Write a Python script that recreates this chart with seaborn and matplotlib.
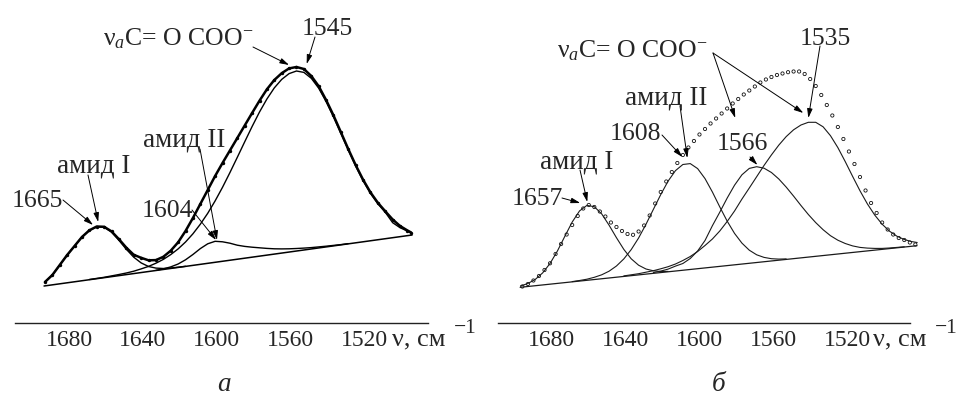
import matplotlib
matplotlib.use("Agg")
import matplotlib.pyplot as plt
from matplotlib.transforms import IdentityTransform
import pandas as pd
import seaborn as sns

# ---------------- panel а ----------------
nu_a = [1693, 1689, 1685, 1681, 1677, 1673, 1669, 1665, 1661, 1657,
        1653, 1649, 1645, 1641, 1637, 1633, 1629, 1625, 1621, 1617,
        1613, 1609, 1605, 1601, 1597, 1593, 1589, 1585, 1581, 1577,
        1573, 1569, 1565, 1561, 1557, 1553, 1549, 1545, 1541, 1537,
        1533, 1529, 1525, 1521, 1517, 1513, 1509, 1505, 1501, 1497, 1495]
spectrum_a = [41, 48, 58, 68, 77, 86, 92.7, 96.5, 96.2, 91.6,
              83.8, 75.3, 68.2, 65.2, 62.7, 62.9, 66.2, 72.3, 80.7, 92,
              105, 119, 133, 147, 160, 172.5, 185, 197.5, 210, 222.3,
              233.7, 243, 249.8, 254.6, 256, 254, 247, 236.8, 223, 207.6,
              190.8, 173.9, 157.9, 143.3, 130.6, 120.2, 111.7, 103.5, 97, 92.5, 90.5]

nu_a_amide1 = [1693, 1689, 1685, 1681, 1677, 1673, 1669, 1665, 1661, 1657,
               1653, 1649, 1645, 1641, 1637, 1633, 1629, 1625, 1621, 1617]
band_a_amide1 = [41, 48, 58, 68, 77, 86, 92.5, 96.2, 95.8, 90.9,
                 82.7, 73.7, 65.8, 60.1, 56.5, 54.9, 54.5, 55.0, 55.8, 56.7]

nu_a_amide2 = [1633, 1629, 1625, 1621, 1617, 1613, 1609, 1605, 1601, 1597,
               1593, 1589, 1585, 1581, 1577, 1573, 1569, 1565, 1561, 1557,
               1553, 1549, 1545, 1541, 1537, 1533, 1529]
band_a_amide2 = [52.7, 54.1, 56.1, 59.0, 63.2, 68.5, 74.4, 79.2, 81.7, 81.2,
                 79.8, 77.8, 76.6, 75.8, 75.2, 74.6, 74.2, 74.1, 74.2, 74.5,
                 74.9, 75.4, 76.1, 76.8, 77.6, 78.4, 79.4]

nu_a_coo = [1669, 1665, 1661, 1657, 1653, 1649, 1645, 1641, 1637, 1633,
            1629, 1625, 1621, 1617, 1613, 1609, 1605, 1601, 1597, 1593,
            1589, 1585, 1581, 1577, 1573, 1569, 1565, 1561, 1557, 1553,
            1549, 1545, 1541, 1537, 1533, 1529, 1525, 1521, 1517, 1513,
            1509, 1505, 1501, 1497, 1495]
band_a_coo = [43.5, 44.6, 45.7, 47.1, 48.5, 50.0, 51.8, 54.1, 56.6, 59.8,
              63.6, 68.4, 74.1, 81.0, 89.2, 98.8, 109.7, 122.1, 135.7, 150.4,
              165.7, 181.2, 196.5, 211.0, 224.0, 235.1, 243.6, 249.4, 252.0, 250.6,
              244.7, 234.8, 221.5, 206.1, 189.5, 172.9, 156.9, 142.3, 129.6, 119.2,
              110.7, 100.3, 95.3, 91.9, 89.9]

nu_a_base = [1693.5, 1494.5]
base_a = [37, 88]

# ---------------- panel б ----------------
nu_b = [1696, 1693, 1690, 1687, 1684, 1681, 1678, 1675, 1672, 1669,
        1666, 1663, 1660, 1657, 1654, 1651, 1648, 1645, 1642, 1639,
        1636, 1633, 1630, 1627, 1624, 1621, 1618, 1615, 1612, 1609,
        1606, 1603, 1600, 1597, 1594, 1591, 1588, 1585, 1582, 1579,
        1576, 1573, 1570, 1567, 1564, 1561, 1558, 1555, 1552, 1549,
        1546, 1543, 1540, 1537, 1534, 1531, 1528, 1525, 1522, 1519,
        1516, 1513, 1510, 1507, 1504, 1501, 1498, 1495, 1492, 1489,
        1486, 1483]
spectrum_b = [36.5, 39, 42.5, 47, 53, 59.7, 69, 79, 88.5, 98,
              107, 114.5, 118, 116, 111.5, 106.5, 100.5, 96, 92, 89,
              88.2, 91.5, 97.5, 107.5, 119.5, 131, 141.5, 151, 160, 168,
              175.5, 182, 188.5, 194, 199.5, 204.5, 209.5, 214.5, 219.5, 224,
              228.5, 232.5, 236.5, 240.5, 243.5, 246, 248, 249.5, 250.8, 251.5,
              251.5, 249, 244, 237, 228, 218, 207.5, 196, 184, 171.5,
              159, 146, 132.5, 120, 110, 100.5, 93.5, 88.5, 85, 83,
              80.5, 78.5]

nu_b_amide1 = [1697, 1693, 1689, 1685, 1681, 1677, 1673, 1669, 1665, 1661,
               1657, 1653, 1649, 1645, 1641, 1637, 1633, 1629, 1625, 1621, 1617]
band_b_amide1 = [37.0, 39.5, 43.6, 50.1, 59.5, 72.0, 86.6, 100.9, 112.1, 117.6,
                 116.3, 109.1, 97.8, 85.3, 73.6, 64.2, 57.8, 54.0, 52.2, 51.5, 51.6]

nu_b_amide2 = [1669, 1665, 1661, 1657, 1653, 1649, 1645, 1641, 1637, 1633,
               1629, 1625, 1621, 1617, 1613, 1609, 1605, 1601, 1597, 1593,
               1589, 1585, 1581, 1577, 1573, 1569, 1565, 1561, 1557, 1553]
band_b_amide2 = [41.4, 42.5, 43.8, 45.7, 48.2, 51.8, 57.0, 64.1, 73.4, 85.0,
                 98.7, 113.6, 128.4, 141.9, 152.4, 158.5, 159.4, 154.4, 144.4, 131.0,
                 116.1, 101.9, 89.6, 79.9, 72.8, 68.2, 65.6, 64.3, 63.9, 64.1]

nu_b_coo1 = [1625, 1621, 1617, 1613, 1609, 1605, 1601, 1597, 1593, 1589,
             1585, 1581, 1577, 1573, 1569, 1565, 1561, 1557, 1553, 1549,
             1545, 1541, 1537, 1533, 1529, 1525, 1521, 1517, 1513, 1509,
             1505, 1501, 1497, 1493, 1489]
band_b_coo1 = [50.4, 51.9, 53.9, 56.9, 59.5, 64.5, 72.0, 82.5, 97.3, 110.8,
               124.9, 137.8, 148.2, 154.6, 156.3, 154.8, 150.5, 144.0, 135.9, 126.9,
               117.5, 108.5, 100.4, 93.3, 87.3, 82.8, 79.5, 77.1, 75.6, 74.9,
               74.6, 74.6, 75.0, 75.6, 76.2]

nu_b_coo2 = [1641, 1637, 1633, 1629, 1625, 1621, 1617, 1613, 1609, 1605,
             1601, 1597, 1593, 1589, 1585, 1581, 1577, 1573, 1569, 1565,
             1561, 1557, 1553, 1549, 1545, 1541, 1537, 1533, 1529, 1525,
             1521, 1517, 1513, 1509, 1505, 1501, 1497, 1493, 1489, 1485, 1482]
band_b_coo2 = [47.1, 48.2, 49.3, 50.8, 52.3, 54.2, 56.3, 59.0, 62.5, 66.5,
               71.5, 77.5, 84.0, 92.0, 101.5, 112.0, 123.9, 135.0, 146.3, 157.6,
               168.1, 177.9, 186.4, 193.2, 198.0, 200.7, 200.7, 196.2, 187.3, 175.4,
               161.4, 146.6, 132.2, 119.1, 107.9, 98.8, 91.8, 86.8, 83.5, 81.4, 80.5]

nu_b_base = [1697.2, 1482.1]
base_b = [35.7, 77.3]

major_ticks = [1680, 1640, 1600, 1560, 1520]
minor_ticks = [1700, 1660, 1620, 1580, 1540, 1500]
x_limits = (1709.2, 1485.9)

# ---------------- style ----------------
sns.set_style("white")
plt.rcParams["font.family"] = ["Liberation Serif", "DejaVu Serif"]
plt.rcParams["mathtext.fontset"] = "custom"
plt.rcParams["mathtext.rm"] = "Liberation Serif"
plt.rcParams["mathtext.it"] = "Liberation Serif:italic"
plt.rcParams["mathtext.bf"] = "Liberation Serif:bold"

W, H = 959, 396
fig = plt.figure(figsize=(W / 100, H / 100), dpi=100)
fig.patch.set_facecolor("white")


def make_axes(left_px, right_px):
    ax = fig.add_axes([left_px / W, (H - 323) / H, (right_px - left_px) / W, 313 / H])
    ax.set_xlim(*x_limits)
    ax.set_ylim(0, 313)
    for side in ("left", "right", "top"):
        ax.spines[side].set_visible(False)
    ax.spines["bottom"].set_linewidth(1.0)
    ax.spines["bottom"].set_color("#222222")
    ax.set_yticks([])
    ax.set_xticks(major_ticks)
    ax.set_xticks(minor_ticks, minor=True)
    ax.set_xticklabels([str(t) for t in major_ticks])
    ax.tick_params(axis="x", which="major", direction="out", length=3.3, width=0.8,
                   color="#222222", labelsize=17, pad=1.5)
    ax.tick_params(axis="x", which="minor", direction="out", length=2.5, width=0.8,
                   color="#222222")
    ax.patch.set_alpha(0)
    return ax


ax_a = make_axes(15, 428)
ax_b = make_axes(498, 910)


def line(ax, nu, vals, lw, color="black"):
    df = pd.DataFrame({"nu": nu, "y": vals})
    sns.lineplot(data=df, x="nu", y="y", ax=ax, sort=False, estimator=None,
                 color=color, lw=lw, clip_on=False)


# panel а: baseline, bands, fitted spectrum with data points
line(ax_a, nu_a_base, base_a, 1.1)
line(ax_a, nu_a_amide1, band_a_amide1, 1.0)
line(ax_a, nu_a_amide2, band_a_amide2, 1.0)
line(ax_a, nu_a_coo, band_a_coo, 1.0)
line(ax_a, nu_a, spectrum_a, 1.8)
sns.scatterplot(data=pd.DataFrame({"nu": nu_a, "y": spectrum_a}), x="nu", y="y",
                ax=ax_a, color="black", s=6, linewidth=0, marker="o", clip_on=False)

# panel б: baseline, bands, experimental points
line(ax_b, nu_b_base, base_b, 0.9, "#1a1a1a")
line(ax_b, nu_b_amide1, band_b_amide1, 0.8, "#1a1a1a")
line(ax_b, nu_b_amide2, band_b_amide2, 0.8, "#1a1a1a")
line(ax_b, nu_b_coo1, band_b_coo1, 0.8, "#1a1a1a")
line(ax_b, nu_b_coo2, band_b_coo2, 0.8, "#1a1a1a")
sns.scatterplot(data=pd.DataFrame({"nu": nu_b, "y": spectrum_b}), x="nu", y="y",
                ax=ax_b, facecolors="none", edgecolor="#111111", s=5.5, linewidth=0.6,
                marker="o", clip_on=False)

for ax in (ax_a, ax_b):
    ax.set_xlabel("")
    ax.set_ylabel("")


# ---------------- labels and arrows ----------------
def label(x, y, s, size=18.5, **kw):
    fig.text(x, H - y, s, transform=IdentityTransform(), fontsize=size,
             ha="left", va="baseline", **kw)


def arrow(ax, start, tip):
    ax.annotate("", xy=tip, xycoords="data",
                xytext=(start[0], H - start[1]), textcoords="figure pixels",
                arrowprops=dict(arrowstyle="-|>,head_length=0.55,head_width=0.16",
                                color="black", lw=0.7, shrinkA=0, shrinkB=0,
                                mutation_scale=10),
                annotation_clip=False)


formula = "ν$_{a}$C= O COO$^{-}$"

# panel а
label(103, 45, formula)
arrow(ax_a, (253, 47), (1561, 258))
label(302, 35, "1545")
arrow(ax_a, (315, 37), (1551.5, 259))
label(143, 147, "амид II", size=19.5)
arrow(ax_a, (200, 149), (1600, 83))
label(57, 173, "амид I", size=19.5)
arrow(ax_a, (88, 175), (1664.2, 101))
label(12, 207, "1665")
arrow(ax_a, (63, 200), (1667, 98))
label(142, 217, "1604")
arrow(ax_a, (192, 210), (1600.5, 83))

# panel б
label(557, 57, formula)
arrow(ax_b, (713, 53), (1580.6, 205))
arrow(ax_b, (713, 53), (1543.7, 210))
label(800, 45, "1535")
arrow(ax_b, (820, 46), (1541, 205))
label(625, 105, "амид II", size=19.5)
arrow(ax_b, (680, 106), (1606.6, 165))
label(610, 140, "1608")
arrow(ax_b, (662, 135), (1609.3, 166))
label(717, 150, "1566")
arrow(ax_b, (750, 157), (1568.6, 158))
label(540, 168, "амид I", size=19.5)
arrow(ax_b, (580, 170), (1660.8, 121))
label(512, 205, "1657")
arrow(ax_b, (562, 198), (1664.6, 120))

# axis titles and panel letters
label(392, 345.7, "ν, см", size=19)
label(454, 333, "−1", size=15.5)
label(873, 345.7, "ν, см", size=19)
label(935, 333, "−1", size=15.5)
fig.text(223.5, H - 391, "а", transform=IdentityTransform(), fontsize=19.5,
         style="italic", ha="center", va="baseline")
fig.text(719, H - 391, "б", transform=IdentityTransform(), fontsize=19.5,
         style="italic", ha="center", va="baseline")

fig.savefig("out.png", dpi=100, facecolor="white")
